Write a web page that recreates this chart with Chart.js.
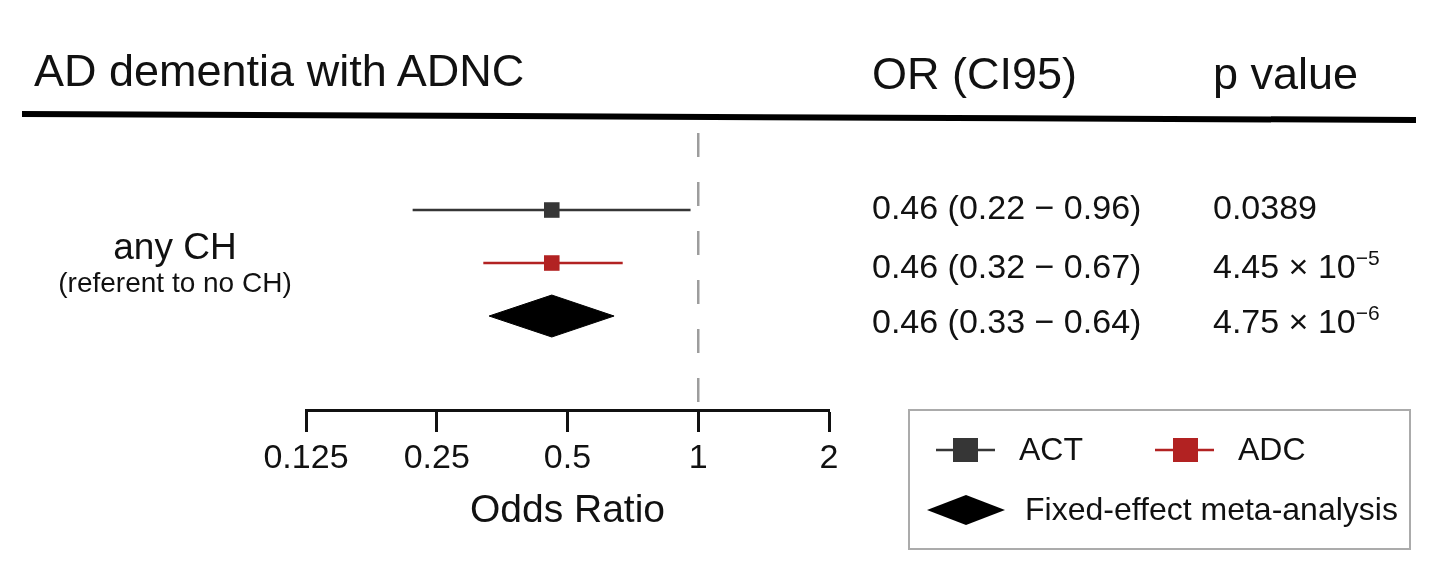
<!DOCTYPE html>
<html>
<head>
<meta charset="utf-8">
<script src="https://cdn.jsdelivr.net/npm/chart.js@4.4.1/dist/chart.umd.min.js"></script>
<style>
  html, body { margin: 0; padding: 0; background: #ffffff; overflow: hidden; }
  #wrap { position: relative; width: 1456px; height: 569px; font-family: "Liberation Sans", Arial, Helvetica, sans-serif; color: #111; }
  #chartBox { position: absolute; left: 0; top: 0; width: 1456px; height: 569px; }
  .t { position: absolute; white-space: nowrap; line-height: 1; }
  .sup { font-size: 21px; position: relative; top: -13px; }
  #legend { position: absolute; left: 908px; top: 409px; width: 503px; height: 141px; border: 2px solid #ababab; box-sizing: border-box; }
</style>
</head>
<body>
<div id="wrap">
  <div id="chartBox"><canvas id="c"></canvas></div>
  <svg width="1456" height="569" style="position:absolute;left:0;top:0;pointer-events:none">
    <line x1="22" y1="114" x2="1416" y2="120" stroke="#000" stroke-width="6"/>
  </svg>
  <div id="texts"></div>
  <div id="legend"></div>
</div>
<script>
// ---- data ----
const studies = ['ACT', 'ADC', 'Fixed-effect meta-analysis'];
const rows = [1, 2, 3];
const orEst = [0.46, 0.46, 0.46];
const ciLow = [0.22, 0.32, 0.33];
const ciHigh = [0.96, 0.67, 0.64];
const pText = ['0.0389', '4.45 × 10', '4.75 × 10'];
const pSup = ['', '−5', '−6'];
const tickValues = [0.125, 0.25, 0.5, 1, 2];
const tickLabels = ['0.125', '0.25', '0.5', '1', '2'];
const groupLabel = 'any CH';
const groupSub = '(referent to no CH)';
const headerTitle = 'AD dementia with ADNC';
const headerOR = 'OR (CI95)';
const headerP = 'p value';
const axisTitle = 'Odds Ratio';

// ---- styles ----
const colors = ['#363636', '#b22222', '#000000'];
const yMin = -0.453, yMax = 4.773;
const diamondHalf = 0.396;

// ---- datasets ----
const datasets = [];
// reference line at OR = 1
datasets.push({
  data: [{x: 1, y: yMin}, {x: 1, y: yMax}],
  showLine: true, borderColor: '#9d9d9d', borderWidth: 2.5, borderDash: [24, 25],
  pointRadius: 0, fill: false, order: 5
});
for (let i = 0; i < 2; i++) {
  datasets.push({
    data: [{x: ciLow[i], y: rows[i]}, {x: ciHigh[i], y: rows[i]}],
    showLine: true, borderColor: colors[i], borderWidth: 2.5,
    pointRadius: 0, fill: false, order: 2
  });
  datasets.push({
    data: [{x: orEst[i], y: rows[i]}],
    showLine: false, pointStyle: 'rect', pointRadius: 11, pointBorderWidth: 0,
    backgroundColor: colors[i], borderColor: colors[i], order: 1
  });
}
// meta-analysis diamond
const k = 2;
datasets.push({
  data: [
    {x: ciLow[k], y: rows[k]},
    {x: orEst[k], y: rows[k] - diamondHalf},
    {x: ciHigh[k], y: rows[k]},
    {x: orEst[k], y: rows[k] + diamondHalf},
    {x: ciLow[k], y: rows[k]}
  ],
  showLine: true, fill: 'shape', backgroundColor: colors[k], borderColor: colors[k],
  borderWidth: 1, pointRadius: 0, tension: 0, order: 1
});

new Chart(document.getElementById('c'), {
  type: 'scatter',
  data: { datasets },
  options: {
    responsive: true,
    maintainAspectRatio: false,
    animation: false,
    devicePixelRatio: 1,
    layout: { padding: { left: 306, right: 627, top: 133, bottom: 0 } },
    plugins: { legend: { display: false }, tooltip: { enabled: false } },
    scales: {
      x: {
        type: 'logarithmic',
        min: 0.125, max: 2,
        afterBuildTicks: (scale) => { scale.ticks = tickValues.map(v => ({ value: v })); },
        afterFit: (scale) => { scale.height = 159; },
        grid: { drawOnChartArea: false, drawTicks: true, tickLength: 22, tickWidth: 3, tickColor: '#111' },
        border: { display: true, color: '#111', width: 3 },
        ticks: {
          autoSkip: false, maxRotation: 0, padding: 6, color: '#111',
          font: { family: '"Liberation Sans", Arial, sans-serif', size: 34 },
          callback: (v, i) => tickLabels[i]
        },
        title: {
          display: true, text: axisTitle, color: '#111',
          font: { family: '"Liberation Sans", Arial, sans-serif', size: 39 },
          padding: { top: 0, bottom: 34 }
        }
      },
      y: { type: 'linear', display: false, min: yMin, max: yMax, reverse: true }
    }
  }
});

// ---- text table ----
const T = document.getElementById('texts');
function addText(html, left, top, size, extra) {
  const d = document.createElement('div');
  d.className = 't';
  d.style.left = left + 'px';
  d.style.top = top + 'px';
  d.style.fontSize = size + 'px';
  if (extra) Object.assign(d.style, extra);
  d.innerHTML = html;
  T.appendChild(d);
  return d;
}
addText(headerTitle, 34, 48, 45);
addText(headerOR, 872, 51, 45);
addText(headerP, 1213, 51, 45);
addText(groupLabel, 75, 228, 37, { width: 200 + 'px', textAlign: 'center' });
addText(groupSub, 25, 269, 28, { width: 300 + 'px', textAlign: 'center' });
const rowTops = [190, 249, 304];
for (let i = 0; i < rows.length; i++) {
  addText(orEst[i].toFixed(2) + ' (' + ciLow[i].toFixed(2) + ' − ' + ciHigh[i].toFixed(2) + ')', 872, rowTops[i], 34);
  addText(pText[i] + (pSup[i] ? '<span class="sup">' + pSup[i] + '</span>' : ''), 1213, rowTops[i], 34);
}

// ---- legend ----
const L = document.getElementById('legend');
const ox = 908, oy = 409;
L.innerHTML =
  '<svg width="503" height="141" style="position:absolute;left:-2px;top:-2px">' +
  '<line x1="' + (936 - ox) + '" y1="' + (450 - oy) + '" x2="' + (995 - ox) + '" y2="' + (450 - oy) + '" stroke="' + colors[0] + '" stroke-width="2.5"/>' +
  '<rect x="' + (953 - ox) + '" y="' + (438 - oy) + '" width="25" height="24" fill="' + colors[0] + '"/>' +
  '<line x1="' + (1155 - ox) + '" y1="' + (450 - oy) + '" x2="' + (1214 - ox) + '" y2="' + (450 - oy) + '" stroke="' + colors[1] + '" stroke-width="2.5"/>' +
  '<rect x="' + (1173 - ox) + '" y="' + (438 - oy) + '" width="25" height="24" fill="' + colors[1] + '"/>' +
  '<polygon points="' + (927 - ox) + ',' + (510 - oy) + ' ' + (966 - ox) + ',' + (495 - oy) + ' ' + (1005 - ox) + ',' + (510 - oy) + ' ' + (966 - ox) + ',' + (525 - oy) + '" fill="#000"/>' +
  '</svg>';
function legText(txt, x, baseline) {
  const d = document.createElement('div');
  d.className = 't';
  d.style.left = (x - ox - 2) + 'px';
  d.style.top = (baseline - 0.8465 * 32 - oy - 2) + 'px';
  d.style.fontSize = '32px';
  d.textContent = txt;
  L.appendChild(d);
}
legText(studies[0], 1019, 460);
legText(studies[1], 1238, 460);
legText(studies[2], 1025, 520);
</script>
</body>
</html>
